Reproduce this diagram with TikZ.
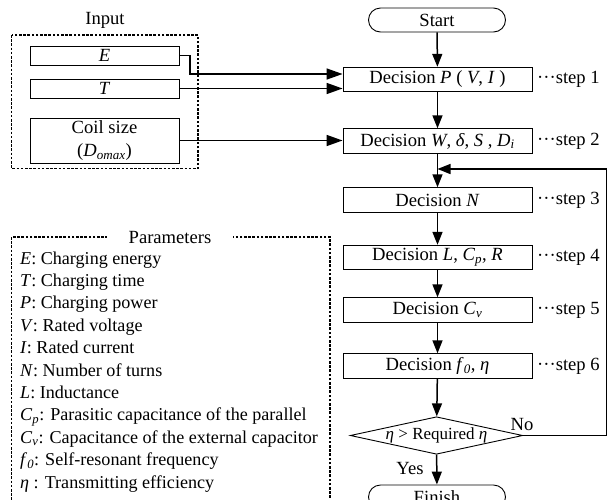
\documentclass[tikz,border=0pt]{standalone}
\usepackage{fontspec}
\setmainfont{Liberation Serif}
\usetikzlibrary{shapes.geometric,arrows.meta}
\tikzset{
  every node/.style={font=\fontsize{18.6}{23}\selectfont, inner sep=0pt},
  procbox/.style={draw, line width=0.9pt, minimum width=189pt, minimum height=24.5pt},
  inbox/.style={draw, line width=0.9pt, minimum width=149pt, minimum height=19pt},
  term/.style={draw, line width=0.9pt, rounded corners=12pt, minimum width=137pt, minimum height=24pt},
  dec/.style={draw, line width=0.9pt, shape=diamond, aspect=4.6, minimum width=163pt, minimum height=35pt, font=\fontsize{17}{20}\selectfont},
  arr/.style={line width=1.5pt, -{Triangle[length=13pt,width=10pt]}},
  bigarr/.style={line width=1.5pt, -{Triangle[length=16pt,width=11pt]}},
  dbox/.style={line width=1.8pt, dash pattern=on 2.6pt off 1.6pt},
  steplbl/.style={anchor=west},
  param/.style={anchor=base west, font=\fontsize{18.1}{22}\selectfont},
}
\begin{document}
\begin{tikzpicture}[x=1pt,y=-1pt]
\useasboundingbox (0,0) rectangle (608,499);
\clip (0,0) rectangle (608,499);

% Input group
\node (inlbl) at (105,20) {Input};
\draw[dbox] (11.5,35) rectangle (198,168.5);
\node[inbox] (E) at (104.5,55.5) {\textit{E}};
\node[inbox] (T) at (104.5,88.5) {\textit{T}};
\node[inbox, minimum height=45pt, align=center, font=\fontsize{18.6}{23}\selectfont] (coil) at (104.5,140.5) {Coil size\\(\textit{D}\textsubscript{\textit{omax}})};

% Flowchart
\node[term] (start) at (437,20) {Start};
\node[procbox] (b1) at (437.5,79.5) {Decision \textit{P} ( \textit{V}, \textit{I} )};
\node[procbox] (b2) at (437.5,141) {Decision \textit{W}, \textit{δ}, \textit{S} , \textit{D}\textsubscript{\textit{i}}};
\node[procbox] (b3) at (437.5,200) {Decision \textit{N}};
\node[procbox] (b4) at (437.5,257.5) {Decision \textit{L}, \textit{C}\textsubscript{\textit{p}}, \textit{R}};
\node[procbox] (b5) at (437.5,310) {Decision \textit{C}\textsubscript{\textit{v}}};
\node[procbox] (b6) at (437.5,366) {Decision \textit{f}\textsubscript{\textit{0}}, \textit{η}};
\node[dec] (dia) at (436.5,435.5) {\textit{η} > Required \textit{η}};
\node[term] (finish) at (437,497) {Finish};

\node[steplbl] (s1) at (537,79.5) {···step 1};
\node[steplbl] (s2) at (537,141) {···step 2};
\node[steplbl] (s3) at (537,200) {···step 3};
\node[steplbl] (s4) at (537,257.5) {···step 4};
\node[steplbl] (s5) at (537,310) {···step 5};
\node[steplbl] (s6) at (537,366) {···step 6};

\node (no) at (522,424) {No};
\node (yes) at (410,468) {Yes};

% connectors
\draw[arr] (start) -- (b1);
\draw[arr] (b1) -- (b2);
\draw[arr] (b2) -- (b3);
\draw[arr] (b3) -- (b4);
\draw[arr] (b4) -- (b5);
\draw[arr] (b5) -- (b6);
\draw[arr] (b6) -- (dia);
\draw[arr] (dia) -- (finish);

\coordinate (eturn) at (190,74);
\draw[bigarr] (E.east) -| (eturn) -- (b1.west |- eturn);
\draw[bigarr] (T.east) -- (T.east -| b1.west);
\draw[bigarr] (coil.east) -- (coil.east -| b2.west);

\coordinate (loopR) at (606.5,169);
\draw[arr] (dia.east) -| (loopR) -- (b2.south |- loopR);

% Parameters
\draw[dbox] (11.5,237) rectangle (330,540);
\node[fill=white, inner xsep=22pt, inner ysep=3pt] (ptitle) at (170,237) {Parameters};
\node[param] (p1) at (20,264) {\textit{E}: Charging energy};
\node[param] (p2) at (20,286.4) {\textit{T}: Charging time};
\node[param] (p3) at (20,308.8) {\textit{P}: Charging power};
\node[param] (p4) at (20,331.2) {\textit{V}: Rated voltage};
\node[param] (p5) at (20,353.6) {\textit{I}: Rated current};
\node[param] (p6) at (20,376) {\textit{N}: Number of turns};
\node[param] (p7) at (20,398.4) {\textit{L}: Inductance};
\node[param] (p8) at (20,420.8) {\textit{C}\textsubscript{\textit{p}}: Parasitic capacitance of the parallel};
\node[param] (p9) at (20,443.2) {\textit{C}\textsubscript{\textit{v}}: Capacitance of the external capacitor};
\node[param] (p10) at (20,465.6) {\textit{f}\textsubscript{\textit{0}}: Self-resonant frequency};
\node[param] (p11) at (20,488) {\textit{η} : Transmitting efficiency};
\end{tikzpicture}
\end{document}
